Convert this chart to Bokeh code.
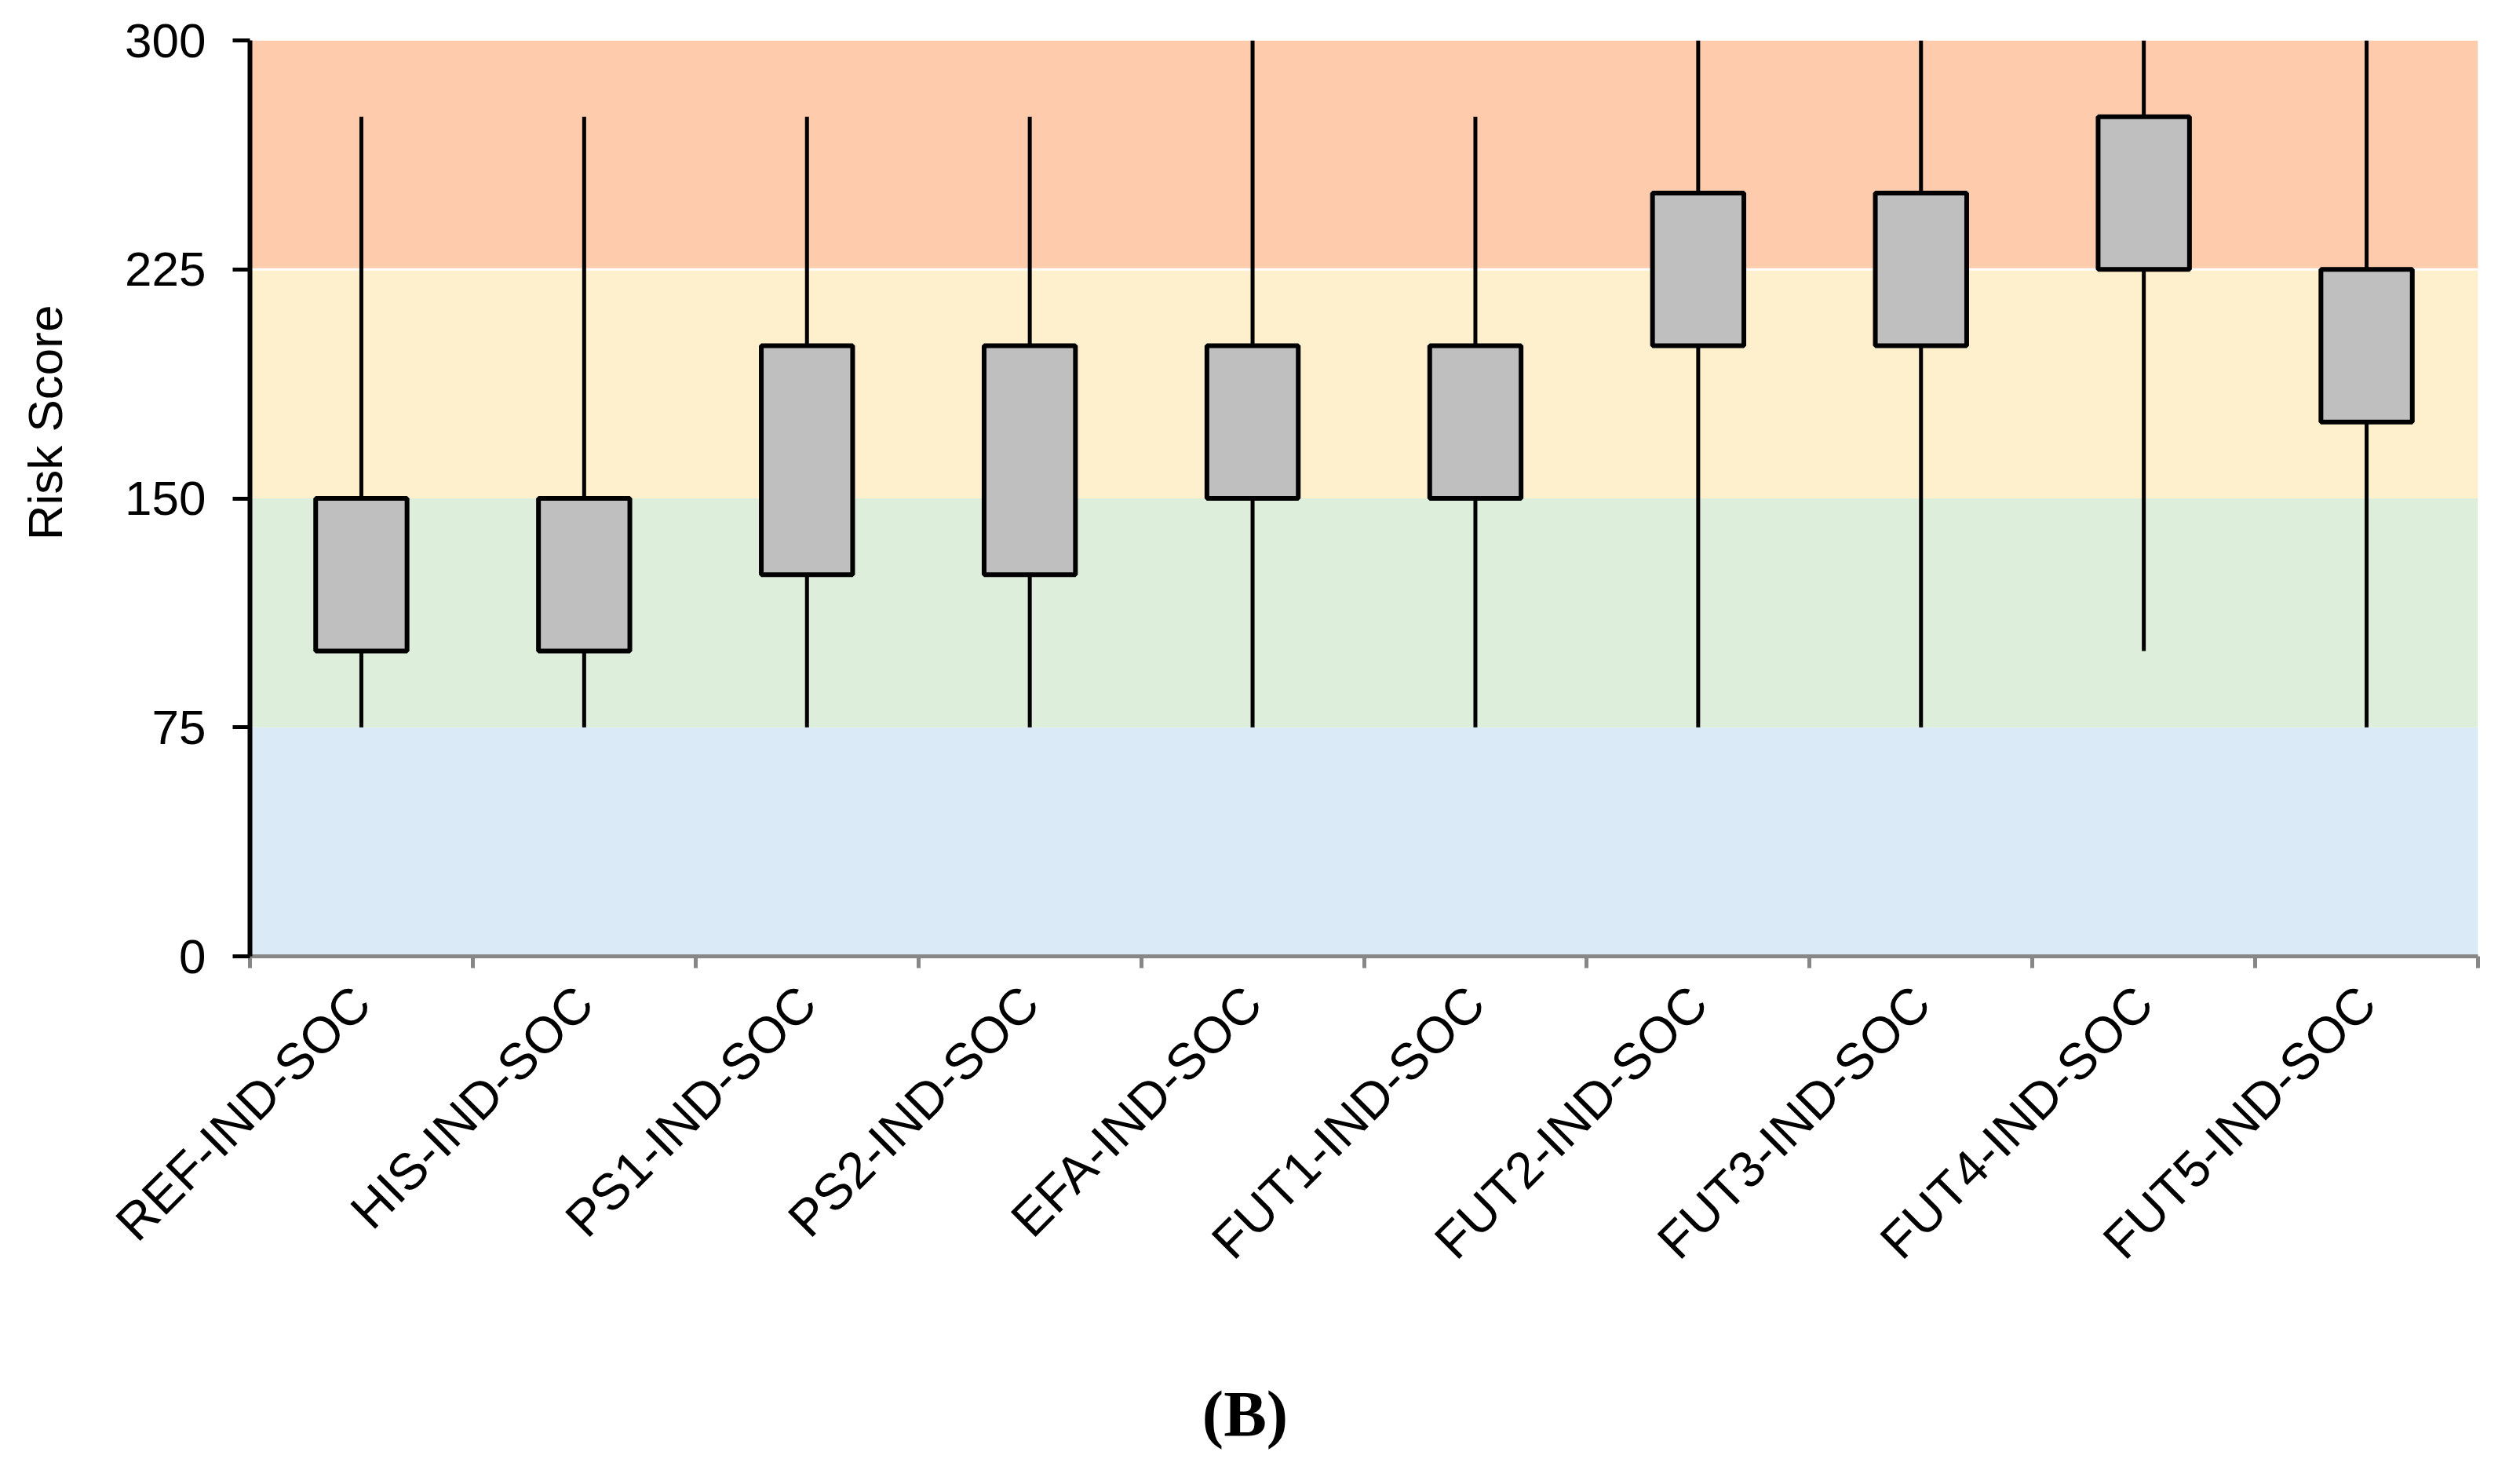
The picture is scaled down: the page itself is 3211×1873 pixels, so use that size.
import math
from bokeh.plotting import figure
from bokeh.layouts import row, column
from bokeh.models import Range1d, FixedTicker, BoxAnnotation, Span, Label
from bokeh.embed import file_html
from bokeh.resources import INLINE

# ---- data ----
categories = ["REF-IND-SOC", "HIS-IND-SOC", "PS1-IND-SOC", "PS2-IND-SOC", "EFA-IND-SOC",
              "FUT1-IND-SOC", "FUT2-IND-SOC", "FUT3-IND-SOC", "FUT4-IND-SOC", "FUT5-IND-SOC"]
whisker_low = [75, 75, 75, 75, 75, 75, 75, 75, 100, 75]
box_low = [100, 100, 125, 125, 150, 150, 200, 200, 225, 175]
box_high = [150, 150, 200, 200, 200, 200, 250, 250, 275, 225]
whisker_high = [275, 275, 275, 275, 300, 275, 300, 300, 300, 300]
y_ticks = [0, 75, 150, 225, 300]
band_bottoms = [0, 75, 150, 225]
band_tops = [75, 150, 225, 300]
band_colors = ["#DAEAF6", "#DDEEDA", "#FFF0CD", "#FFCBAD"]
y_label = "Risk Score"
caption = "(B)"

n = len(categories)
positions = [i + 0.5 for i in range(n)]
boundaries = list(range(n + 1))

FONT = "Liberation Sans"
TOTAL_W, TOTAL_H = 3195, 1857
LEFT_W = 120          # strip holding the y-axis title
MAIN_H = 1680         # height of the main chart
CAP_H = TOTAL_H - MAIN_H
FRAME_BOTTOM = 1218   # pixel row of the x axis inside the main chart

p = figure(width=TOTAL_W - LEFT_W, height=MAIN_H,
           x_range=Range1d(0, n), y_range=Range1d(0, 300),
           output_backend="svg", toolbar_location=None,
           min_border_left=318 - LEFT_W, min_border_right=38,
           min_border_top=51, min_border_bottom=MAIN_H - FRAME_BOTTOM)
p.xgrid.visible = False
p.ygrid.visible = False
p.outline_line_color = None
p.background_fill_color = "white"

# background risk bands
for b, t, c in zip(band_bottoms, band_tops, band_colors):
    p.add_layout(BoxAnnotation(bottom=b, top=t, fill_color=c, fill_alpha=1.0,
                               line_color=None, level="underlay"))
p.add_layout(Span(location=band_bottoms[3], dimension="width", line_color="white",
                  line_width=3, level="underlay"))

# whiskers and boxes
p.segment(x0=positions, y0=whisker_low, x1=positions, y1=whisker_high,
          line_color="black", line_width=5)
p.vbar(x=positions, width=0.41, bottom=box_low, top=box_high,
       fill_color="#BFBFBF", line_color="black", line_width=6)

# x axis
xa = p.xaxis[0]
xa.ticker = FixedTicker(ticks=positions, minor_ticks=boundaries)
xa.major_label_overrides = {pos: cat for pos, cat in zip(positions, categories)}
xa.major_tick_out = 0
xa.major_tick_in = 0
xa.minor_tick_out = 15
xa.minor_tick_in = 0
xa.minor_tick_line_color = "#878787"
xa.minor_tick_line_width = 5
xa.axis_line_color = "#878787"
xa.axis_line_width = 5
xa.major_label_orientation = math.pi / 4
xa.major_label_text_font = FONT
xa.major_label_text_font_size = "65px"
xa.major_label_text_color = "black"
xa.major_label_standoff = 34

# y axis
ya = p.yaxis[0]
ya.ticker = FixedTicker(ticks=y_ticks, minor_ticks=[])
ya.axis_line_color = "black"
ya.axis_line_width = 6
ya.major_tick_out = 22
ya.major_tick_in = 0
ya.major_tick_line_width = 5
ya.major_tick_line_color = "black"
ya.minor_tick_line_color = None
ya.major_label_text_font = FONT
ya.major_label_text_font_size = "62px"
ya.major_label_text_color = "black"
ya.major_label_standoff = 34


def text_strip(width, height):
    f = figure(width=width, height=height, x_range=Range1d(0, width),
               y_range=Range1d(0, height), min_border=0,
               x_axis_type=None, y_axis_type=None,
               output_backend="svg", toolbar_location=None)
    f.outline_line_color = None
    f.background_fill_color = "white"
    return f


# y axis title strip (its frame is aligned with the main chart's frame)
fl = text_strip(LEFT_W, MAIN_H)
fl.add_layout(Label(x=57, y=FRAME_BOTTOM - 538, x_units="screen", y_units="screen",
                    text=y_label, angle=math.pi / 2, text_align="center",
                    text_baseline="middle", text_font=FONT,
                    text_font_size="62px", text_color="black"))

# caption strip
fc = text_strip(TOTAL_W, CAP_H)
fc.add_layout(Label(x=1586, y=TOTAL_H - 1823 + 22, x_units="screen", y_units="screen",
                    text=caption, text_align="center", text_baseline="alphabetic",
                    text_font="Liberation Serif", text_font_style="bold",
                    text_font_size="82px", text_color="black"))

layout = column(row(fl, p, spacing=0), fc, spacing=0)

open("out.html", "w").write(file_html(layout, INLINE))
